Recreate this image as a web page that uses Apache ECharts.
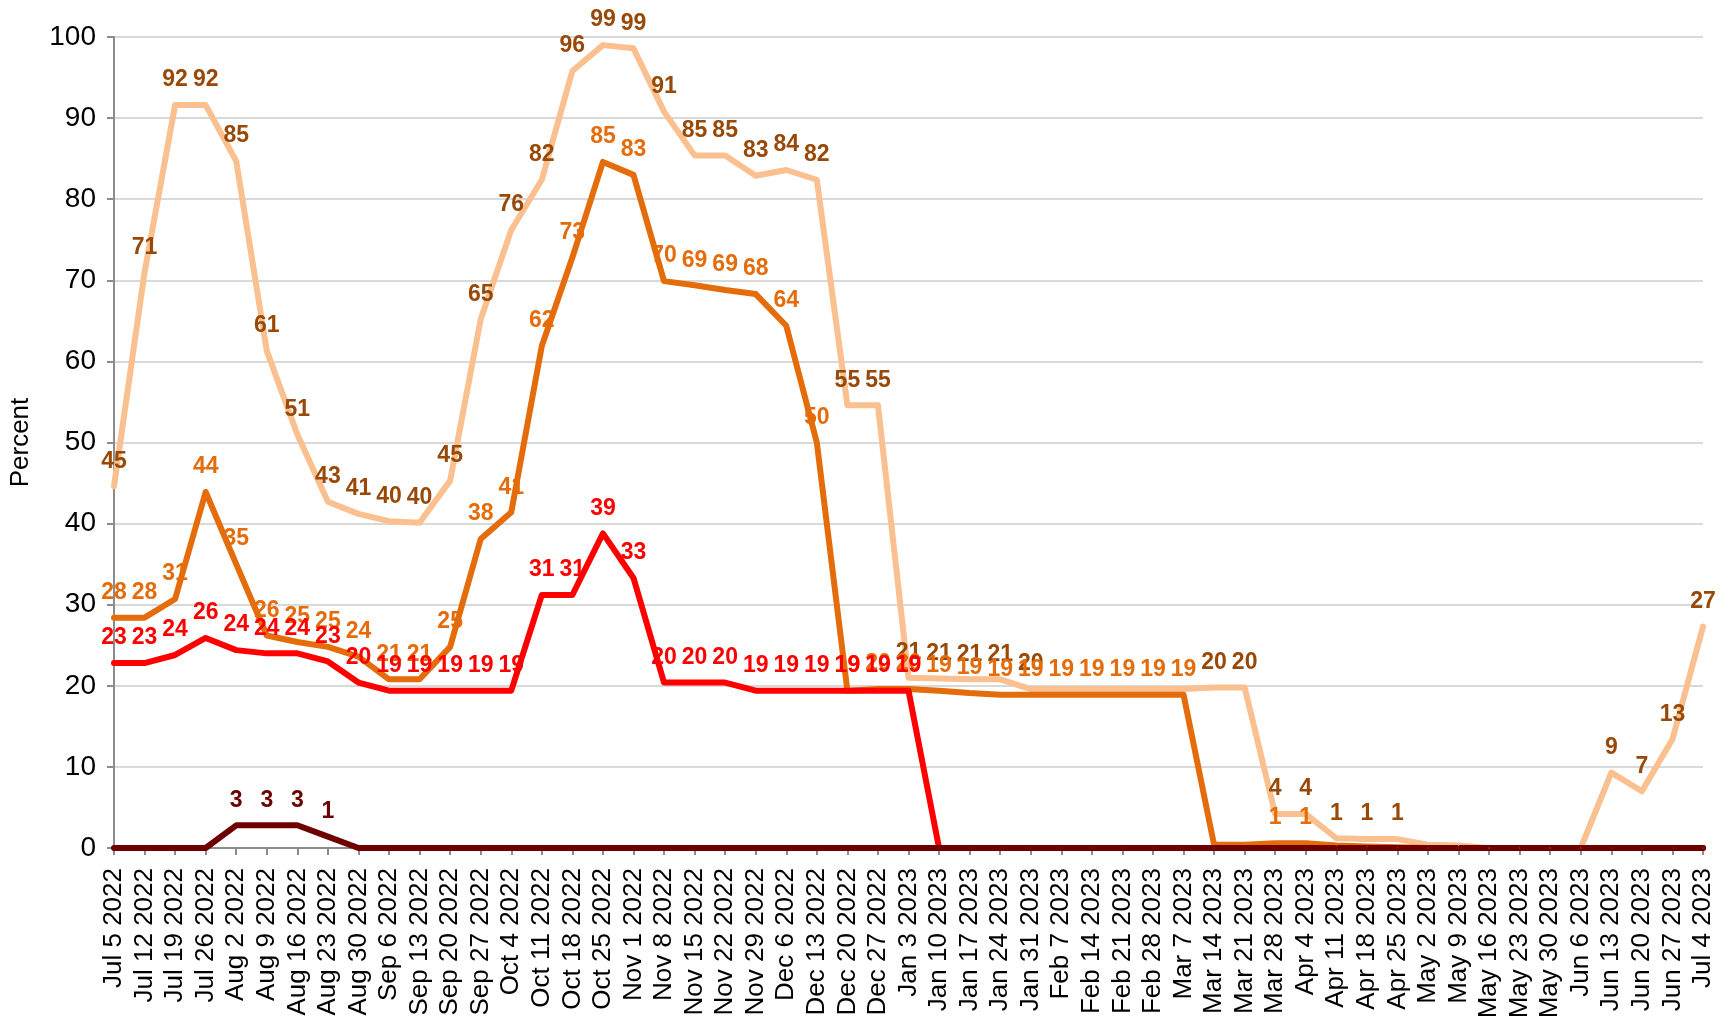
<!DOCTYPE html>
<html>
<head>
<meta charset="utf-8">
<title>Percent by week</title>
<script src="https://cdn.jsdelivr.net/npm/echarts@6/dist/echarts.min.js"></script>
<style>
  html, body { margin: 0; padding: 0; background: #fff; }
  #chart { width: 1729px; height: 1023px; }
</style>
</head>
<body>
<div id="chart"></div>
<script>
// week labels, Jul 5 2022 .. Jul 4 2023
const weeks = [
  'Jul 5 2022', 'Jul 12 2022', 'Jul 19 2022', 'Jul 26 2022', 'Aug 2 2022', 'Aug 9 2022',
  'Aug 16 2022', 'Aug 23 2022', 'Aug 30 2022', 'Sep 6 2022', 'Sep 13 2022', 'Sep 20 2022',
  'Sep 27 2022', 'Oct 4 2022', 'Oct 11 2022', 'Oct 18 2022', 'Oct 25 2022', 'Nov 1 2022',
  'Nov 8 2022', 'Nov 15 2022', 'Nov 22 2022', 'Nov 29 2022', 'Dec 6 2022', 'Dec 13 2022',
  'Dec 20 2022', 'Dec 27 2022', 'Jan 3 2023', 'Jan 10 2023', 'Jan 17 2023', 'Jan 24 2023',
  'Jan 31 2023', 'Feb 7 2023', 'Feb 14 2023', 'Feb 21 2023', 'Feb 28 2023', 'Mar 7 2023',
  'Mar 14 2023', 'Mar 21 2023', 'Mar 28 2023', 'Apr 4 2023', 'Apr 11 2023', 'Apr 18 2023',
  'Apr 25 2023', 'May 2 2023', 'May 9 2023', 'May 16 2023', 'May 23 2023', 'May 30 2023',
  'Jun 6 2023', 'Jun 13 2023', 'Jun 20 2023', 'Jun 27 2023', 'Jul 4 2023'
];

// values (percent)
const peach = [
  44.6, 71, 91.6, 91.6, 84.7, 61.3, 51, 42.7, 41.2, 40.3, 40.1, 45.3, 65.2,
  76.2, 82.4, 95.8, 99, 98.6, 90.8, 85.4, 85.4, 82.9, 83.6, 82.4, 54.6, 54.6,
  21, 20.9, 20.8, 20.8, 19.6, 19.6, 19.6, 19.6, 19.6, 19.6, 19.8, 19.8, 4.2,
  4.2, 1.2, 1.1, 1.1, 0.4, 0.3, 0, 0, 0, 0, 9.3, 7, 13.4, 27.3
];
const orange = [
  28.4, 28.4, 30.7, 43.9, 35, 26.2, 25.4, 24.8, 23.6, 20.8, 20.8, 24.8, 38.1,
  41.4, 61.9, 72.8, 84.6, 83, 69.9, 69.4, 68.8, 68.3, 64.4, 50, 19.4, 19.6,
  19.6, 19.4, 19.1, 18.9, 18.9, 18.9, 18.9, 18.9, 18.9, 18.9, 0.4, 0.4, 0.6,
  0.6, 0.3, 0.2, 0.1, 0, 0, 0, 0, 0, 0, 0, 0, 0, 0
];
const red = [
  22.8, 22.8, 23.8, 25.9, 24.4, 24, 24, 23, 20.4, 19.4, 19.4, 19.4, 19.4,
  19.4, 31.2, 31.2, 38.8, 33.3, 20.4, 20.4, 20.4, 19.4, 19.4, 19.4, 19.4, 19.4,
  19.4, 0, 0, 0, 0, 0, 0, 0, 0, 0, 0, 0, 0,
  0, 0, 0, 0, 0, 0, 0, 0, 0, 0, 0, 0, 0, 0
];
const maroon = [
  0, 0, 0, 0, 2.8, 2.8, 2.8, 1.4, 0, 0, 0, 0, 0,
  0, 0, 0, 0, 0, 0, 0, 0, 0, 0, 0, 0, 0,
  0, 0, 0, 0, 0, 0, 0, 0, 0, 0, 0, 0, 0,
  0, 0, 0, 0, 0, 0, 0, 0, 0, 0, 0, 0, 0, 0
];
// the original has no peach labels for Feb 7 - Mar 7 (they sat under the orange ones)
const peachHidden = [31, 32, 33, 34, 35];

const FONT = "'Liberation Sans', Arial, sans-serif";

function labeller(hidden) {
  return function (p) {
    const v = Math.round(p.value);
    if (v === 0 || hidden.indexOf(p.dataIndex) >= 0) return '';
    return String(v);
  };
}

function line(name, data, color, labelColor, hidden) {
  return {
    name: name,
    type: 'line',
    data: data,
    // labels need symbols; make them too small to see
    showSymbol: true,
    showAllSymbol: true,
    symbol: 'circle',
    symbolSize: 1,
    smooth: false,
    lineStyle: { color: color, width: 6, join: 'round', cap: 'round' },
    itemStyle: { color: color },
    label: {
      show: true,
      position: 'top',
      distance: 13,
      formatter: labeller(hidden || []),
      color: labelColor,
      fontFamily: FONT,
      fontWeight: 'bold',
      fontSize: 23
    },
    labelLayout: { hideOverlap: false },
    emphasis: { disabled: true },
    animation: false
  };
}

const chart = echarts.init(document.getElementById('chart'));
chart.setOption({
  backgroundColor: '#fff',
  grid: { left: 110, right: 26, top: 37, bottom: 175, containLabel: false },
  xAxis: {
    type: 'category',
    data: weeks,
    boundaryGap: false,
    axisLine: { lineStyle: { color: '#8c8c8c', width: 2 } },
    axisTick: { show: true, length: 7, lineStyle: { color: '#8c8c8c', width: 2 } },
    axisLabel: {
      interval: 0,
      rotate: 90,
      margin: 20,
      color: '#000',
      fontFamily: FONT,
      fontSize: 26
    },
    splitLine: { show: false }
  },
  yAxis: {
    type: 'value',
    min: 0,
    max: 100,
    interval: 10,
    name: 'Percent',
    nameLocation: 'middle',
    nameGap: 80,
    nameRotate: 90,
    nameTextStyle: { color: '#000', fontFamily: FONT, fontSize: 26 },
    axisLine: { show: true, lineStyle: { color: '#8c8c8c', width: 2 } },
    axisTick: { show: true, inside: false, length: 7, lineStyle: { color: '#8c8c8c', width: 2 } },
    axisLabel: { color: '#000', fontFamily: FONT, fontSize: 28, margin: 18 },
    splitLine: { lineStyle: { color: '#d9d9d9', width: 2 } }
  },
  series: [
    line('Series 1', peach, '#fac090', '#984807', peachHidden),
    line('Series 2', orange, '#e46c0a', '#e46c0a'),
    line('Series 3', red, '#ff0000', '#ff0000'),
    line('Series 4', maroon, '#6f0000', '#6f0000')
  ]
});
</script>
</body>
</html>
